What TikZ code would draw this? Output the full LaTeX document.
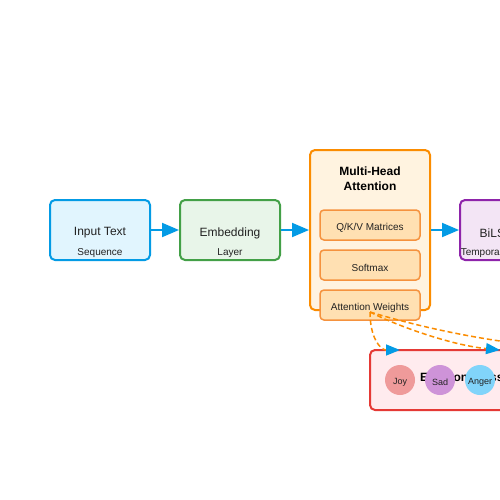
\documentclass[tikz,border=0pt]{standalone}
\usepackage{fontspec}
\setmainfont{Liberation Sans}
\usetikzlibrary{arrows.meta}
\definecolor{bluel}{HTML}{039BE5}\definecolor{bluef}{HTML}{E1F5FE}
\definecolor{greenl}{HTML}{43A047}\definecolor{greenf}{HTML}{E8F5E9}
\definecolor{orl}{HTML}{FB8C00}\definecolor{orf}{HTML}{FFF3E0}
\definecolor{subl}{HTML}{F5923E}\definecolor{subf}{HTML}{FFE0B2}
\definecolor{purl}{HTML}{8E24AA}\definecolor{purf}{HTML}{F3E5F5}
\definecolor{redl}{HTML}{E53935}\definecolor{redf}{HTML}{FFEBEE}
\definecolor{joyc}{HTML}{EF9A9A}\definecolor{sadc}{HTML}{CE93D8}\definecolor{angc}{HTML}{81D4FA}
\definecolor{txt}{HTML}{222222}
\tikzset{
  box/.style={draw=#1l, fill=#1f, line width=2pt, rounded corners=5pt, inner sep=0pt},
  subbox/.style={draw=subl, fill=subf, line width=1.5pt, rounded corners=4pt, inner sep=0pt, minimum width=100pt, minimum height=30pt},
  main/.style={font=\fontsize{12}{14}\selectfont, text=txt, inner sep=0pt},
  sub/.style={font=\fontsize{10}{12}\selectfont, text=txt, inner sep=0pt},
  ttl/.style={font=\bfseries\fontsize{12}{15}\selectfont, text=black, inner sep=0pt, align=center},
  flow/.style={draw=bluel, line width=2pt, -{Triangle[length=17pt,width=14pt]}},
  attlink/.style={draw=orl, line width=1.5pt, dash pattern=on 5pt off 3pt, -{Triangle[length=14pt,width=11pt,fill=bluel,color=bluel]}},
  emo/.style={circle, minimum size=30pt, inner sep=0pt},
  emol/.style={font=\fontsize{9}{10}\selectfont, text=txt, inner sep=0pt}
}
\begin{document}
\begin{tikzpicture}[x=1pt,y=-1pt]
\useasboundingbox (0,0) rectangle (500,500);
\clip (0,0) rectangle (500,500);
\fill[white] (0,0) rectangle (500,500);
% boxes
\node[box=blue, minimum width=100pt, minimum height=60pt] (inp) at (100,230) {};
\node[main] (inpt) at (100,233) {Input Text};
\node[sub] (inps) at (100,253) {Sequence};
\node[box=green, minimum width=100pt, minimum height=60pt] (emb) at (230,230) {};
\node[main] (embt) at (230,233) {Embedding};
\node[sub] (embs) at (230,253) {Layer};
\node[box=or, minimum width=120pt, minimum height=160pt] (mha) at (370,230) {};
\node[ttl] (mhat) at (370,179) {Multi-Head\\Attention};
\node[subbox] (qkv) at (370,225) {};
\node[sub] (qkvt) at (370,228) {Q/K/V Matrices};
\node[subbox] (soft) at (370,265) {};
\node[sub] (softt) at (370,268) {Softmax};
\node[subbox] (aw) at (370,305) {};
\node[sub] (awt) at (370,308) {Attention Weights};
\node[box=pur, minimum width=100pt, minimum height=60pt] (bil) at (510,230) {};
\node[main] (bilt) at (501,233) {BiLSTM};
\node[sub] (bils) at (500,253) {Temporal Context};
% arrows
\draw[flow] (inp.east) -- (emb.west);
\draw[flow] (emb.east) -- (mha.west);
\draw[flow] (mha.east |- bil.west) -- (bil.west);
% emotion box
\node[box=red, minimum width=260pt, minimum height=60pt] (emob) at (500,380) {};
\node[ttl, anchor=west] (emot) at (420,377) {Emotion Classes};
\node[emo, fill=joyc] (joy) at (400,380) {};
\node[emol] (joyt) at (400,382) {Joy};
\node[emo, fill=sadc] (sad) at (440,380) {};
\node[emol] (sadt) at (440,382) {Sad};
\node[emo, fill=angc] (ang) at (480,380) {};
\node[emol] (angt) at (480,382) {Anger};
% attention links
\coordinate (aws) at (370,312);
\coordinate (t1) at (400,350);
\coordinate (t2) at (500,350);
\coordinate (t3) at (600,350);
\draw[attlink] (aws) .. controls (370,337.3) and (380,350) .. (t1);
\draw[attlink] (aws) .. controls (395,325) and (450,345) .. (t2);
\draw[attlink] (aws) .. controls (443.3,334) and (520,346.7) .. (t3);
\end{tikzpicture}
\end{document}
